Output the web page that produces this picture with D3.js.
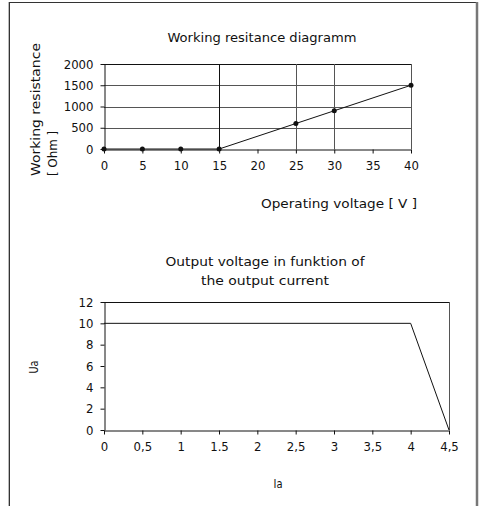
<!DOCTYPE html>
<html>
<head>
<meta charset="utf-8">
<script src="https://cdn.jsdelivr.net/npm/d3@7"></script>
<style>
  body { margin: 0; background: #fff; }
  text { font-family: "DejaVu Sans Condensed", "DejaVu Sans", sans-serif; fill: #111; }
</style>
</head>
<body>
<div id="chart"></div>
<script>
// top chart: working resistance vs operating voltage
var voltage = [0, 5, 10, 15, 25, 30, 40];
var resistance = [0, 0, 0, 0, 600, 900, 1500];
var voltTicks = [0, 5, 10, 15, 20, 25, 30, 35, 40];
var resTicks = [0, 500, 1000, 1500, 2000];
var voltGrid = [15, 25, 30];

// bottom chart: output voltage vs output current
var current = [0, 4, 4.5];
var outVolt = [10, 10, 0];
var curTicks = [0, 0.5, 1, 1.5, 2, 2.5, 3, 3.5, 4, 4.5];
var curLabels = ["0", "0,5", "1", "1.5", "2", "2,5", "3", "3,5", "4", "4,5"];
var uTicks = [0, 2, 4, 6, 8, 10, 12];

var width = 479,
    height = 506;

var svg = d3.select("#chart").append("svg")
    .attr("width", width)
    .attr("height", height);

// page frame
svg.append("line").attr("x1", 8.5).attr("x2", 8.5).attr("y1", 2).attr("y2", height)
    .attr("stroke", "#bbb").attr("stroke-width", 1);
svg.append("line").attr("x1", 9.5).attr("x2", 9.5).attr("y1", 2).attr("y2", height)
    .attr("stroke", "#333").attr("stroke-width", 1);
svg.append("line").attr("x1", 9).attr("x2", 477).attr("y1", 2.5).attr("y2", 2.5)
    .attr("stroke", "#333").attr("stroke-width", 1.2);
svg.append("line").attr("x1", 477).attr("x2", 477).attr("y1", 2).attr("y2", height)
    .attr("stroke", "#777").attr("stroke-width", 2.5);

// helper for the narrow technical lettering
function label(x, y, str, len, anchor, rot) {
    var t = svg.append("text")
        .attr("text-anchor", anchor || "start")
        .style("font-size", "13px")
        .attr("textLength", len)
        .attr("lengthAdjust", "spacingAndGlyphs")
        .text(str);
    if (rot) t.attr("transform", "translate(" + x + "," + y + ") rotate(-90)");
    else t.attr("x", x).attr("y", y);
    return t;
}

function styleAxis(a) {
    a.select(".domain").attr("stroke", "#111");
    a.selectAll(".tick line").attr("stroke", "#111");
    a.selectAll("text").style("font-size", "13px").attr("fill", "#111");
}

// ---------- top chart ----------
var x1 = d3.scaleLinear().domain([0, 40]).range([104, 411]);
var y1 = d3.scaleLinear().domain([0, 2000]).range([149, 64]);

var g1 = svg.append("g");

// horizontal grid
g1.selectAll(".hgrid").data(resTicks.slice(1))
  .enter().append("line")
    .attr("x1", x1(0)).attr("x2", x1(40))
    .attr("y1", function(d) { return Math.round(y1(d)) + 0.5; })
    .attr("y2", function(d) { return Math.round(y1(d)) + 0.5; })
    .attr("stroke", function(d) { return d == 2000 ? "#111" : "#555"; })
    .attr("stroke-width", 1);

// vertical grid
g1.selectAll(".vgrid").data(voltGrid)
  .enter().append("line")
    .attr("x1", function(d) { return Math.round(x1(d)) + 0.5; })
    .attr("x2", function(d) { return Math.round(x1(d)) + 0.5; })
    .attr("y1", y1(2000)).attr("y2", y1(0))
    .attr("stroke", function(d) { return d == 15 ? "#111" : "#555"; })
    .attr("stroke-width", 1);
g1.append("line")
    .attr("x1", Math.round(x1(40)) + 0.5).attr("x2", Math.round(x1(40)) + 0.5)
    .attr("y1", y1(2000)).attr("y2", y1(0))
    .attr("stroke", "#555");

var xAxis1 = g1.append("g")
    .attr("transform", "translate(0," + (Math.round(y1(0)) + 0.5) + ")")
    .call(d3.axisBottom(x1).tickValues(voltTicks).tickSize(4).tickPadding(7).tickSizeOuter(0));
var yAxis1 = g1.append("g")
    .attr("transform", "translate(" + (Math.round(x1(0)) + 0.5) + ",0)")
    .call(d3.axisLeft(y1).tickValues(resTicks).tickFormat(d3.format("d"))
        .tickSize(4).tickPadding(7).tickSizeOuter(0));
styleAxis(xAxis1);
styleAxis(yAxis1);

var line1 = d3.line()
    .x(function(d, i) { return x1(voltage[i]); })
    .y(function(d) { return y1(d); });

g1.append("path")
    .datum(resistance)
    .attr("d", line1)
    .attr("fill", "none")
    .attr("stroke", "#111")
    .attr("stroke-width", 1);

g1.selectAll(".dot").data(resistance)
  .enter().append("circle")
    .attr("cx", function(d, i) { return x1(voltage[i]); })
    .attr("cy", function(d) { return y1(d); })
    .attr("r", 2.5)
    .attr("fill", "#111");

label(262, 42, "Working resitance diagramm", 189, "middle");
label(40, 176, "Working resistance", 133, "start", true);
label(57, 176, "[ Ohm ]", 45, "start", true);
label(417, 208, "Operating voltage [ V ]", 156, "end");

// ---------- bottom chart ----------
var x2 = d3.scaleLinear().domain([0, 4.5]).range([104, 449]);
var y2 = d3.scaleLinear().domain([0, 12]).range([430, 302]);

var g2 = svg.append("g");

g2.append("line")
    .attr("x1", x2(0)).attr("x2", x2(4.5))
    .attr("y1", Math.round(y2(12)) + 0.5).attr("y2", Math.round(y2(12)) + 0.5)
    .attr("stroke", "#111");
g2.append("line")
    .attr("x1", Math.round(x2(4.5)) + 0.5).attr("x2", Math.round(x2(4.5)) + 0.5)
    .attr("y1", y2(12)).attr("y2", y2(0))
    .attr("stroke", "#555");

var xAxis2 = g2.append("g")
    .attr("transform", "translate(0," + (Math.round(y2(0)) + 0.5) + ")")
    .call(d3.axisBottom(x2).tickValues(curTicks)
        .tickFormat(function(d, i) { return curLabels[i]; })
        .tickSize(4).tickPadding(7).tickSizeOuter(0));
var yAxis2 = g2.append("g")
    .attr("transform", "translate(" + (Math.round(x2(0)) + 0.5) + ",0)")
    .call(d3.axisLeft(y2).tickValues(uTicks).tickSize(4).tickPadding(7).tickSizeOuter(0));
styleAxis(xAxis2);
styleAxis(yAxis2);

var line2 = d3.line()
    .x(function(d, i) { return x2(current[i]); })
    .y(function(d) { return y2(d); });

g2.append("path")
    .datum(outVolt)
    .attr("d", line2)
    .attr("fill", "none")
    .attr("stroke", "#111")
    .attr("stroke-width", 1);

label(265, 266, "Output voltage in funktion of", 199, "middle");
label(265, 285, "the output current", 128, "middle");
label(38, 367, "Ua", 13, "middle", true);
label(278, 488, "Ia", 9, "middle");
</script>
</body>
</html>
